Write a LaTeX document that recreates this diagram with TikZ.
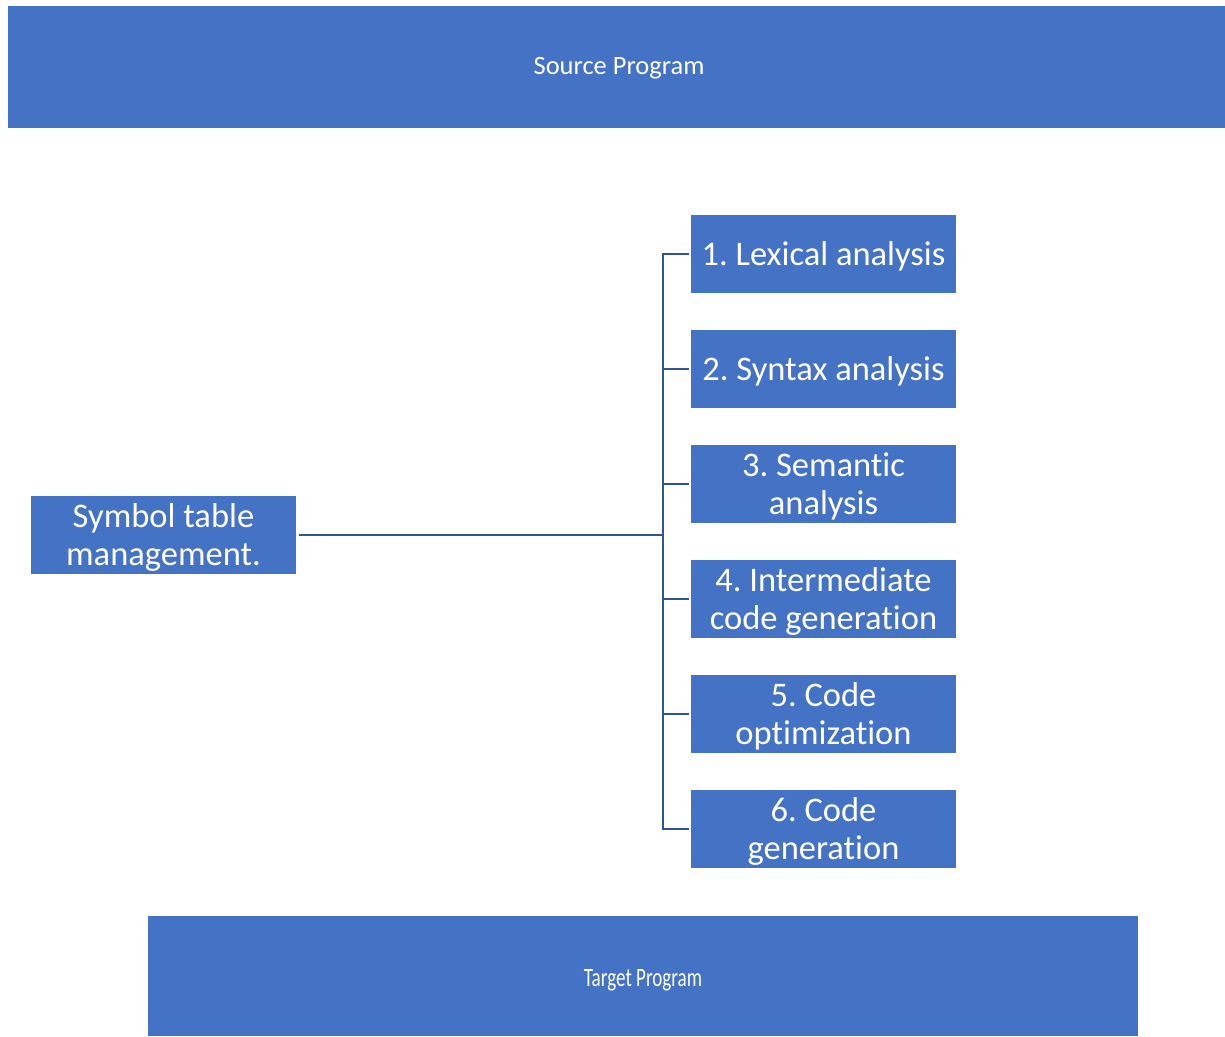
\documentclass[tikz,border=0pt]{standalone}
\usepackage{fontspec}
\setmainfont{Carlito}[Ligatures=NoCommon]
\definecolor{boxblue}{HTML}{4472C4}
\definecolor{linkblue}{HTML}{2F5597}
\begin{document}
\begin{tikzpicture}[x=1pt,y=-1pt,
  bar/.style={fill=boxblue, inner sep=0pt, text=white,
    font=\fontsize{26.5}{32}\selectfont},
  stage/.style={fill=boxblue, inner sep=0pt, minimum width=265pt,
    minimum height=78pt, align=center, text=white,
    font=\fontsize{34.5}{38}\selectfont\frenchspacing},
  stagetext/.style={inner sep=0pt, align=center, text=white,
    font=\fontsize{34.5}{38}\selectfont\frenchspacing},
  link/.style={draw=linkblue, line width=2.8pt}]
\useasboundingbox (0,0) rectangle (1225,1036);
% input and output bars
\node[bar, minimum width=1217pt, minimum height=122pt] (src) at (616.5,67) {};
\node[text=white, font=\fontsize{26.5}{32}\selectfont] (srct) at (619,68) {Source Program};
\node[bar, minimum width=990pt, minimum height=120pt] (tgt) at (643,976) {};
\node[text=white, font=\fontsize{26.5}{32}\selectfont] (tgtt) at (643,980) {\scalebox{0.72}[1]{Target Program}};
% symbol table
\node[stage] (sym) at (163.5,535) {};
\node[stagetext] at (163.5,537) {Symbol table\\management.};
% compiler phases
\node[stage] (p1) at (823.5,254) {};
\node[stage] (p2) at (823.5,369) {};
\node[stage] (p3) at (823.5,484) {};
\node[stage] (p4) at (823.5,599) {};
\node[stage] (p5) at (823.5,714) {};
\node[stage] (p6) at (823.5,829) {};
\node[stagetext] at (823.5,256) {1. Lexical analysis};
\node[stagetext] at (823.5,371) {2. Syntax analysis};
\node[stagetext] at (823.5,486) {3. Semantic\\analysis};
\node[stagetext] at (823.5,601) {4. Intermediate\\code generation};
\node[stagetext] at (823.5,716) {5. Code\\optimization};
\node[stagetext] at (823.5,831) {6. Code\\generation};
% bracket joining the symbol table to every phase
\coordinate (j) at (663,535);
\draw[link, shorten <=3pt] (sym.east) -- (j);
\draw[link, line join=miter]
  (p1.west -| j) -- (p6.west -| j);
\foreach \p in {p1,p2,p3,p4,p5,p6}
  \draw[link, shorten >=3pt, line cap=rect] (\p.west -| j) -- (\p.west);
\end{tikzpicture}
\end{document}
